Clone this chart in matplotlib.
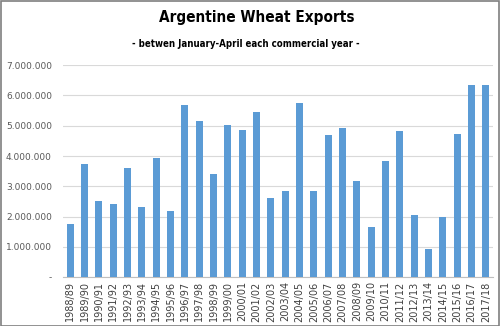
import matplotlib
matplotlib.use('Agg')
import matplotlib.pyplot as plt
from matplotlib.ticker import FuncFormatter

# Argentine wheat exports Jan-Apr, tonnes
seasons = ['1988/89', '1989/90', '1990/91', '1991/92', '1992/93', '1993/94',
           '1994/95', '1995/96', '1996/97', '1997/98', '1998/99', '1999/00',
           '2000/01', '2001/02', '2002/03', '2003/04', '2004/05', '2005/06',
           '2006/07', '2007/08', '2008/09', '2009/10', '2010/11', '2011/12',
           '2012/13', '2013/14', '2014/15', '2015/16', '2016/17', '2017/18']
exports = [1770000, 3750000, 2510000, 2410000, 3620000, 2310000,
           3920000, 2170000, 5700000, 5170000, 3410000, 5030000,
           4870000, 5470000, 2610000, 2860000, 5760000, 2830000,
           4680000, 4940000, 3190000, 1670000, 3820000, 4840000,
           2040000, 920000, 1970000, 4740000, 6330000, 6360000]
yticks = [0, 1000000, 2000000, 3000000, 4000000, 5000000, 6000000, 7000000]

fig = plt.figure(figsize=(5, 3.26), dpi=100)
ax = fig.add_axes([0.126, 0.150, 0.860, 0.650])

x = range(len(seasons))
ax.bar(x, exports, width=0.5, color='#5B9BD5', zorder=3)

ax.set_xlim(-0.5, len(seasons) - 0.5)
ax.set_ylim(0, 7000000)
ax.set_yticks(yticks)
ax.yaxis.set_major_formatter(FuncFormatter(
    lambda v, p: '-' if v == 0 else f'{int(v):,}'.replace(',', '.')))
ax.set_xticks(list(x))
ax.set_xticklabels(seasons, rotation=90, fontsize=7, color='#404040')
ax.tick_params(axis='y', length=0, labelsize=6.5, labelcolor='#595959', pad=8)
ax.tick_params(axis='x', length=0, pad=3)
ax.grid(axis='y', color='#D9D9D9', linewidth=0.8, zorder=0)

for s in ['top', 'right', 'left']:
    ax.spines[s].set_visible(False)
ax.spines['bottom'].set_color('#BFBFBF')

fig.text(0.513, 0.947, 'Argentine Wheat Exports', ha='center', va='center',
         fontsize=11, fontweight='bold', family='DejaVu Sans', stretch='condensed')
fig.text(0.491, 0.866, '- betwen January-April each commercial year -', ha='center',
         va='center', fontsize=6.9, fontweight='bold', family='DejaVu Sans',
         stretch='condensed')

# outer frame
fig.patches.append(plt.Rectangle((0.001, 0.001), 0.997, 0.996, transform=fig.transFigure,
                                 fill=False, edgecolor='#7F7F7F', linewidth=1.2))

plt.savefig('out.png', dpi=100)
